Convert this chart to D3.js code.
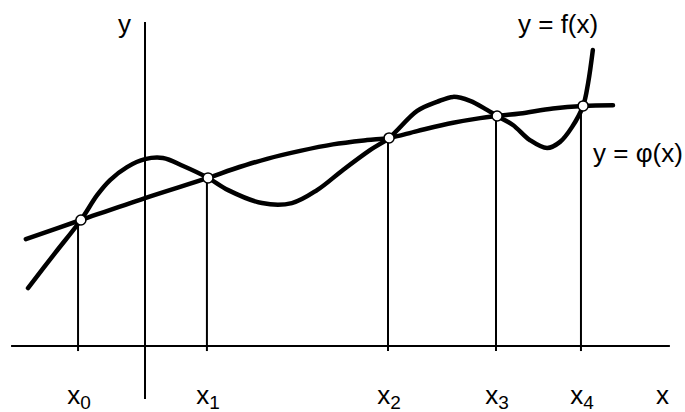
<!DOCTYPE html>
<html>
<head>
<meta charset="utf-8">
<script src="https://cdn.jsdelivr.net/npm/d3@7"></script>
<style>
body { margin: 0; background: #fff; }
text { font-family: "Liberation Sans", Arial, sans-serif; fill: #000; }
</style>
</head>
<body>
<svg id="chart"></svg>
<script>
// curve y = f(x) (x, y in plot units)
var fX = [-3.25, -2.5, -1.78, -1.33, -0.97, -0.5, 0, 0.5, 1.06, 1.75, 2.31, 3.25, 4.08, 4.78, 5.5, 6.25, 6.78, 7.56, 8.11, 8.56, 9.03, 9.5, 9.78, 10.22, 10.69, 11.17, 11.53, 11.86, 12.17, 12.31, 12.44];
var fY = [1.61, 2.58, 3.5, 4.19, 4.61, 4.97, 5.19, 5.22, 5.0, 4.67, 4.33, 3.97, 3.97, 4.33, 4.89, 5.44, 5.78, 6.53, 6.78, 6.92, 6.81, 6.56, 6.39, 6.14, 5.72, 5.5, 5.67, 6.08, 6.67, 7.31, 8.22];

// curve y = phi(x)
var phiX = [-3.31, -1.78, 0, 1.75, 2.44, 3.39, 4.31, 5.22, 6.17, 6.78, 7.56, 8.56, 9.31, 9.78, 10.42, 11.33, 12.17, 13.0];
var phiY = [2.97, 3.5, 4.11, 4.67, 4.91, 5.2, 5.42, 5.6, 5.72, 5.78, 5.97, 6.2, 6.33, 6.39, 6.46, 6.6, 6.67, 6.69];

// intersection points and their ticks
var nodeX = [-1.78, 1.75, 6.78, 9.78, 12.17];
var nodeY = [3.5, 4.67, 5.78, 6.39, 6.67];
var tickX = [-1.86, 1.72, 6.75, 9.75, 12.11];
var tickNames = ["0", "1", "2", "3", "4"];

// axis extents
var xAxisExtent = [-3.72, 14.58];
var yAxisExtent = [-1.47, 9.0];

var screen = {width: 685, height: 412};

var svg = d3.select("#chart")
    .attr("width", screen.width)
    .attr("height", screen.height);

var xscale = d3.scaleLinear().domain([-4, 15]).range([1, 685]);
var yscale = d3.scaleLinear().domain([-2, 10]).range([418, -14]);

var zip = function(xs, ys)
{
    return xs.map(function(x, i) { return {x: x, y: ys[i]}; });
}

var line = d3.line()
    .x(function(d) { return xscale(d.x); })
    .y(function(d) { return yscale(d.y); })
    .curve(d3.curveCatmullRom.alpha(0.5));

// axes
svg.append("line")
    .attr("x1", xscale(xAxisExtent[0])).attr("x2", xscale(xAxisExtent[1]))
    .attr("y1", yscale(0)).attr("y2", yscale(0))
    .attr("stroke", "#000").attr("stroke-width", 2);

svg.append("line")
    .attr("x1", xscale(0)).attr("x2", xscale(0))
    .attr("y1", yscale(yAxisExtent[0])).attr("y2", yscale(yAxisExtent[1]))
    .attr("stroke", "#000").attr("stroke-width", 2);

// drop lines from the points down a bit past the axis
svg.append("g")
    .selectAll("line")
    .data(tickX)
    .enter()
    .append("line")
    .attr("x1", function(d) { return xscale(d); })
    .attr("x2", function(d) { return xscale(d); })
    .attr("y1", function(d, i) { return yscale(nodeY[i]); })
    .attr("y2", yscale(-0.14))
    .attr("stroke", "#000")
    .attr("stroke-width", 2);

// the two curves
[zip(phiX, phiY), zip(fX, fY)].forEach(function(pts)
{
    svg.append("path")
        .attr("d", line(pts))
        .attr("fill", "none")
        .attr("stroke", "#000")
        .attr("stroke-width", 4.5)
        .attr("stroke-linecap", "round")
        .attr("stroke-linejoin", "round");
});

svg.append("g")
    .selectAll("circle")
    .data(zip(nodeX, nodeY))
    .enter()
    .append("circle")
    .attr("cx", function(d) { return xscale(d.x); })
    .attr("cy", function(d) { return yscale(d.y); })
    .attr("r", 5)
    .attr("fill", "#fff")
    .attr("stroke", "#000")
    .attr("stroke-width", 1.5);

// tick labels x0..x4
var labels = svg.append("g")
    .selectAll("text")
    .data(tickX)
    .enter()
    .append("text")
    .attr("x", function(d) { return xscale(d) + 1; })
    .attr("y", 404)
    .attr("text-anchor", "middle")
    .style("font-size", "26px");
labels.append("tspan").text("x");
labels.append("tspan")
    .attr("dy", 5)
    .style("font-size", "19px")
    .text(function(d, i) { return tickNames[i]; });

svg.append("text")
    .attr("x", 656).attr("y", 404)
    .style("font-size", "26px")
    .text("x");

svg.append("text")
    .attr("x", 118).attr("y", 33)
    .style("font-size", "26px")
    .text("y");

svg.append("text")
    .attr("x", 518).attr("y", 33)
    .style("font-size", "26px")
    .text("y = f(x)");

svg.append("text")
    .attr("x", 593).attr("y", 162)
    .style("font-size", "26px")
    .text("y = φ(x)");
</script>
</body>
</html>
